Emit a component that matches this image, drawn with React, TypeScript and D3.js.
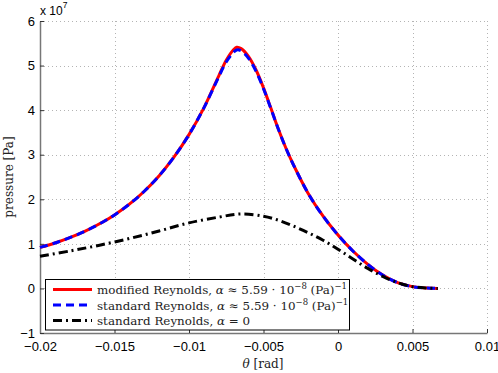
import React, { useEffect, useRef } from "react";
import * as d3 from "d3";

const width = 498;
const height = 373;
const margin = { left: 40, right: 11, top: 21, bottom: 40 };

// theta [rad]
const thetaMod = [
  -0.02, -0.019, -0.018, -0.017, -0.016, -0.015, -0.014, -0.013, -0.012, -0.011, -0.01,
  -0.009, -0.008, -0.0075, -0.007, -0.0068, -0.0065, -0.006, -0.0055, -0.005, -0.0045,
  -0.004, -0.0035, -0.003, -0.002, -0.001, 0, 0.001, 0.002, 0.003, 0.004, 0.005, 0.006, 0.0067,
];
// pressure, units of 1e7 Pa
const pressureMod = [
  0.92, 1.02, 1.14, 1.28, 1.45, 1.65, 1.89, 2.18, 2.53, 2.95, 3.45,
  4.05, 4.77, 5.12, 5.36, 5.41, 5.38, 5.2, 4.9, 4.5, 4.04,
  3.57, 3.15, 2.78, 2.13, 1.62, 1.2, 0.84, 0.54, 0.3, 0.13, 0.04, 0.008, 0,
];
const pressureStd = [
  0.92, 1.02, 1.14, 1.28, 1.45, 1.65, 1.89, 2.18, 2.53, 2.95, 3.45,
  4.05, 4.75, 5.08, 5.3, 5.35, 5.33, 5.16, 4.87, 4.48, 4.03,
  3.57, 3.15, 2.78, 2.13, 1.62, 1.2, 0.84, 0.54, 0.3, 0.13, 0.04, 0.008, 0,
];
const thetaZero = [
  -0.02, -0.018, -0.016, -0.014, -0.012, -0.01, -0.008, -0.0065, -0.005, -0.004,
  -0.003, -0.002, -0.001, 0, 0.001, 0.002, 0.003, 0.004, 0.005, 0.006, 0.0067,
];
const pressureZero = [
  0.72, 0.84, 0.97, 1.12, 1.29, 1.47, 1.6, 1.67, 1.62, 1.53,
  1.4, 1.25, 1.08, 0.88, 0.66, 0.45, 0.27, 0.13, 0.04, 0.008, 0,
];

const xTicks = [-0.02, -0.015, -0.01, -0.005, 0, 0.005, 0.01];
const yTicks = [-1, 0, 1, 2, 3, 4, 5, 6];

const legendItems = [
  { color: "#ff0000", dash: null, label: "modified Reynolds, ", tail: true },
  { color: "#0000ff", dash: "8,5", label: "standard Reynolds, ", tail: true },
  { color: "#000000", dash: "9,4,2,4", label: "standard Reynolds, ", tail: false },
];

const fmt = (v: number) => (v === 0 ? "0" : String(v).replace("-", "\u2212"));

export default function App() {
  const ref = useRef<SVGSVGElement>(null);

  useEffect(() => {
    const svg = d3.select(ref.current);
    svg.selectAll("*").remove();

    const x = d3.scaleLinear().domain([-0.02, 0.01]).range([margin.left, width - margin.right]);
    const y = d3.scaleLinear().domain([-1, 6]).range([height - margin.bottom, margin.top]);

    // grid
    const grid = svg.append("g").attr("stroke", "#b4b4b4").attr("stroke-width", 1).attr("stroke-dasharray", "1,3");
    grid.selectAll(".gx").data(xTicks.slice(1)).join("line")
      .attr("x1", d => Math.round(x(d)) + 0.5).attr("x2", d => Math.round(x(d)) + 0.5)
      .attr("y1", y(6)).attr("y2", y(-1));
    grid.selectAll(".gy").data(yTicks.slice(1)).join("line")
      .attr("y1", d => Math.round(y(d)) + 0.5).attr("y2", d => Math.round(y(d)) + 0.5)
      .attr("x1", x(-0.02)).attr("x2", x(0.01));

    // axes
    const tickFont = "Liberation Sans, Arial, sans-serif";
    const xAxis = d3.axisBottom(x).tickValues(xTicks).tickSizeInner(-4).tickSizeOuter(0).tickPadding(9).tickFormat(d => fmt(+d));
    svg.append("g")
      .attr("transform", `translate(0,${height - margin.bottom})`)
      .call(xAxis)
      .call(g => g.select(".domain").attr("stroke", "#777").attr("stroke-width", 1.5))
      .call(g => g.selectAll(".tick line").attr("stroke", "#333"))
      .call(g => g.selectAll("text").attr("font-family", tickFont).attr("font-size", 13).attr("fill", "#000"));

    const yAxis = d3.axisLeft(y).tickValues(yTicks).tickSizeInner(-4).tickSizeOuter(0).tickPadding(5).tickFormat(d => fmt(+d));
    svg.append("g")
      .attr("transform", `translate(${margin.left},0)`)
      .call(yAxis)
      .call(g => g.select(".domain").attr("stroke", "#777").attr("stroke-width", 1.5))
      .call(g => g.selectAll(".tick line").attr("stroke", "#333"))
      .call(g => g.selectAll("text").attr("font-family", tickFont).attr("font-size", 13).attr("fill", "#000"));

    // exponent
    const ex = svg.append("text").attr("x", 40).attr("y", 15)
      .attr("font-family", tickFont).attr("font-size", 12).attr("fill", "#000");
    ex.append("tspan").text("x 10");
    ex.append("tspan").attr("dy", -7).attr("font-size", 8.5).text("7");

    // curves
    const line = d3.line<[number, number]>().x(d => x(d[0])).y(d => y(d[1])).curve(d3.curveCatmullRom.alpha(0.5));
    const series = [
      { xs: thetaMod, ys: pressureMod, ...legendItems[0] },
      { xs: thetaMod, ys: pressureStd, ...legendItems[1] },
      { xs: thetaZero, ys: pressureZero, ...legendItems[2] },
    ];
    svg.append("g").selectAll("path").data(series).join("path")
      .attr("d", s => line(s.xs.map((t, i) => [t, s.ys[i]] as [number, number])))
      .attr("fill", "none")
      .attr("stroke", s => s.color)
      .attr("stroke-width", 3)
      .attr("stroke-dasharray", s => s.dash);

    // legend
    const serif = "DejaVu Serif, Liberation Serif, serif";
    const lg = svg.append("g");
    lg.append("rect").attr("x", 45.5).attr("y", 279.5).attr("width", 304).attr("height", 50.5)
      .attr("fill", "#fff").attr("stroke", "#000").attr("stroke-width", 1);
    const rows = lg.selectAll("g.row").data(series).join("g")
      .attr("transform", (_, i) => `translate(0,${289.5 + i * 15.5})`);
    rows.append("line").attr("x1", 53).attr("x2", 92).attr("y1", 0).attr("y2", 0)
      .attr("stroke", d => d.color).attr("stroke-width", 3).attr("stroke-dasharray", d => d.dash);
    const txt = rows.append("text").attr("x", 97).attr("y", 4.5)
      .attr("font-family", serif).attr("font-size", 11.9).attr("fill", "#222");
    txt.append("tspan").text(d => d.label);
    txt.append("tspan").attr("font-style", "italic").text("\u03b1");
    txt.each(function (d) {
      const t = d3.select(this);
      if (d.tail) {
        t.append("tspan").text(" \u2248 5.59 \u00b7 10");
        t.append("tspan").attr("dy", -5).attr("font-size", 8.5).text("\u22128");
        t.append("tspan").attr("dy", 5).text(" (Pa)");
        t.append("tspan").attr("dy", -5).attr("font-size", 8.5).text("\u22121");
      } else {
        t.append("tspan").text(" = 0");
      }
    });

    // axis labels
    const xl = svg.append("text").attr("x", 263).attr("y", 368).attr("text-anchor", "middle")
      .attr("font-family", serif).attr("font-size", 12).attr("fill", "#222");
    xl.append("tspan").attr("font-style", "italic").text("\u03b8");
    xl.append("tspan").text(" [rad]");

    svg.append("text").attr("transform", "translate(13,177) rotate(-90)").attr("text-anchor", "middle")
      .attr("font-family", serif).attr("font-size", 12).attr("fill", "#222")
      .text("pressure [Pa]");
  }, []);

  return (
    <svg ref={ref} width={width} height={height}
      style={{ position: "absolute", left: 0, top: 0, background: "#fff" }} />
  );
}
